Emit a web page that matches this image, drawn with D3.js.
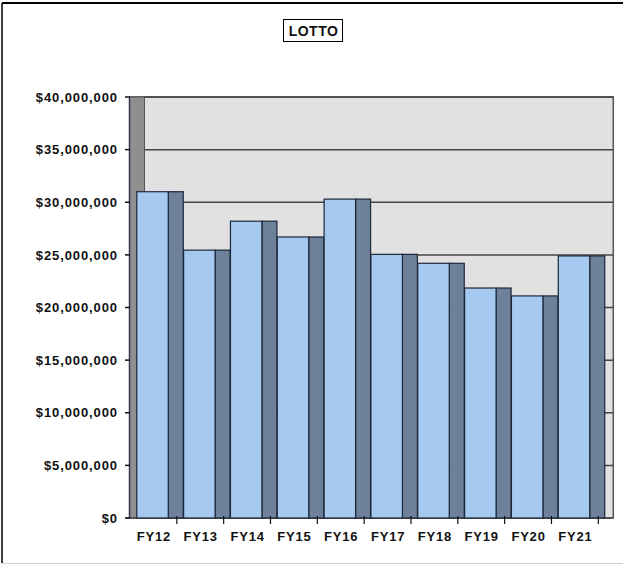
<!DOCTYPE html>
<html>
<head>
<meta charset="utf-8">
<script src="https://cdn.jsdelivr.net/npm/d3@7/dist/d3.min.js"></script>
<style>
  html, body { margin: 0; padding: 0; background: #ffffff; }
  svg { display: block; }
  text { font-family: "Liberation Sans", Arial, Helvetica, sans-serif; font-weight: bold; fill: #111; }
</style>
</head>
<body>
<svg id="chart" width="624" height="565"></svg>
<script>
const title = "LOTTO";
const categories = ["FY12", "FY13", "FY14", "FY15", "FY16", "FY17", "FY18", "FY19", "FY20", "FY21"];
const sales = [31000000, 25450000, 28200000, 26700000, 30300000, 25050000, 24200000, 21850000, 21100000, 24900000];
const yTicks = [0, 5000000, 10000000, 15000000, 20000000, 25000000, 30000000, 35000000, 40000000];

const svg = d3.select("#chart");
const depth = 15;
const plot = { left: 130, right: 598.3, top: 97, bottom: 518 };

const x = d3.scaleBand().domain(categories).range([plot.left, plot.right]).padding(0);
const y = d3.scaleLinear().domain([0, 40000000]).range([plot.bottom, plot.top]);
const fmt = v => "$" + d3.format(",")(v);

// outer frame
svg.append("line").attr("x1", 2).attr("x2", 623).attr("y1", 3).attr("y2", 3).attr("stroke", "#000").attr("stroke-width", 2);
svg.append("line").attr("x1", 2).attr("x2", 2).attr("y1", 3).attr("y2", 563).attr("stroke", "#000").attr("stroke-width", 1.5);
svg.append("line").attr("x1", 2).attr("x2", 623).attr("y1", 563.5).attr("y2", 563.5).attr("stroke", "#d0d0d0").attr("stroke-width", 1);

// title
svg.append("rect").attr("x", 283.5).attr("y", 19.5).attr("width", 59).attr("height", 22)
  .attr("fill", "#fff").attr("stroke", "#000").attr("stroke-width", 1);
svg.append("text").attr("x", 313.5).attr("y", 36).attr("text-anchor", "middle")
  .style("font-size", "14px").style("letter-spacing", "0.5px").text(title);

// back wall
svg.append("rect").attr("x", plot.left + depth - 1).attr("y", plot.top)
  .attr("width", plot.right - plot.left + 1).attr("height", plot.bottom - plot.top)
  .attr("fill", "#e1e1e1").attr("stroke", "#555").attr("stroke-width", 1.5);

// gridlines
svg.append("g").selectAll("line").data(yTicks.filter(d => d > 0)).join("line")
  .attr("x1", plot.left).attr("x2", plot.right + depth)
  .attr("y1", d => y(d)).attr("y2", d => y(d))
  .attr("stroke", "#444").attr("stroke-width", 1.5);

// left wall
svg.append("rect").attr("x", plot.left - 0.5).attr("y", plot.top)
  .attr("width", depth).attr("height", plot.bottom - plot.top)
  .attr("fill", "#8f8f8f").attr("stroke", "#555").attr("stroke-width", 1);
svg.append("line").attr("x1", plot.left - 0.5).attr("x2", plot.left - 0.5)
  .attr("y1", plot.top).attr("y2", plot.bottom).attr("stroke", "#3a3450").attr("stroke-width", 1.5);

// x axis baseline
svg.append("line").attr("x1", plot.left - 4).attr("x2", plot.right + depth)
  .attr("y1", plot.bottom).attr("y2", plot.bottom).attr("stroke", "#444").attr("stroke-width", 1.5);

// bars
const bw = x.bandwidth();
const frontOff = bw * 0.145;
const frontW = bw * 0.672;
const bars = svg.append("g").selectAll("g").data(categories).join("g");
bars.append("rect")
  .attr("x", (d, i) => x(d) + frontOff + frontW)
  .attr("y", (d, i) => y(sales[i]))
  .attr("width", depth)
  .attr("height", (d, i) => plot.bottom - y(sales[i]))
  .attr("fill", "#6d819b").attr("stroke", "#1c2738").attr("stroke-width", 1.2);
bars.append("rect")
  .attr("x", (d, i) => x(d) + frontOff)
  .attr("y", (d, i) => y(sales[i]))
  .attr("width", frontW)
  .attr("height", (d, i) => plot.bottom - y(sales[i]))
  .attr("fill", "#a6c9f0").attr("stroke", "#1c2738").attr("stroke-width", 1.2);

// y axis ticks & labels
const yg = svg.append("g");
yg.selectAll("line").data(yTicks).join("line")
  .attr("x1", plot.left - 5).attr("x2", plot.left)
  .attr("y1", d => y(d)).attr("y2", d => y(d))
  .attr("stroke", "#111").attr("stroke-width", 1.5);
yg.selectAll("text").data(yTicks).join("text")
  .attr("x", 118).attr("y", d => y(d) + 4.7)
  .attr("text-anchor", "end")
  .style("font-size", "13px").style("letter-spacing", "0.9px")
  .text(fmt);

// x axis ticks & labels
const xg = svg.append("g");
xg.selectAll("line").data(categories).join("line")
  .attr("x1", d => x(d) + bw).attr("x2", d => x(d) + bw)
  .attr("y1", plot.bottom - 2).attr("y2", plot.bottom + 6)
  .attr("stroke", "#111").attr("stroke-width", 1.2);
xg.selectAll("text").data(categories).join("text")
  .attr("x", d => x(d) + bw / 2 + 0.5).attr("y", 541)
  .attr("text-anchor", "middle")
  .style("font-size", "13px").style("letter-spacing", "0.8px")
  .text(d => d);
</script>
</body>
</html>
